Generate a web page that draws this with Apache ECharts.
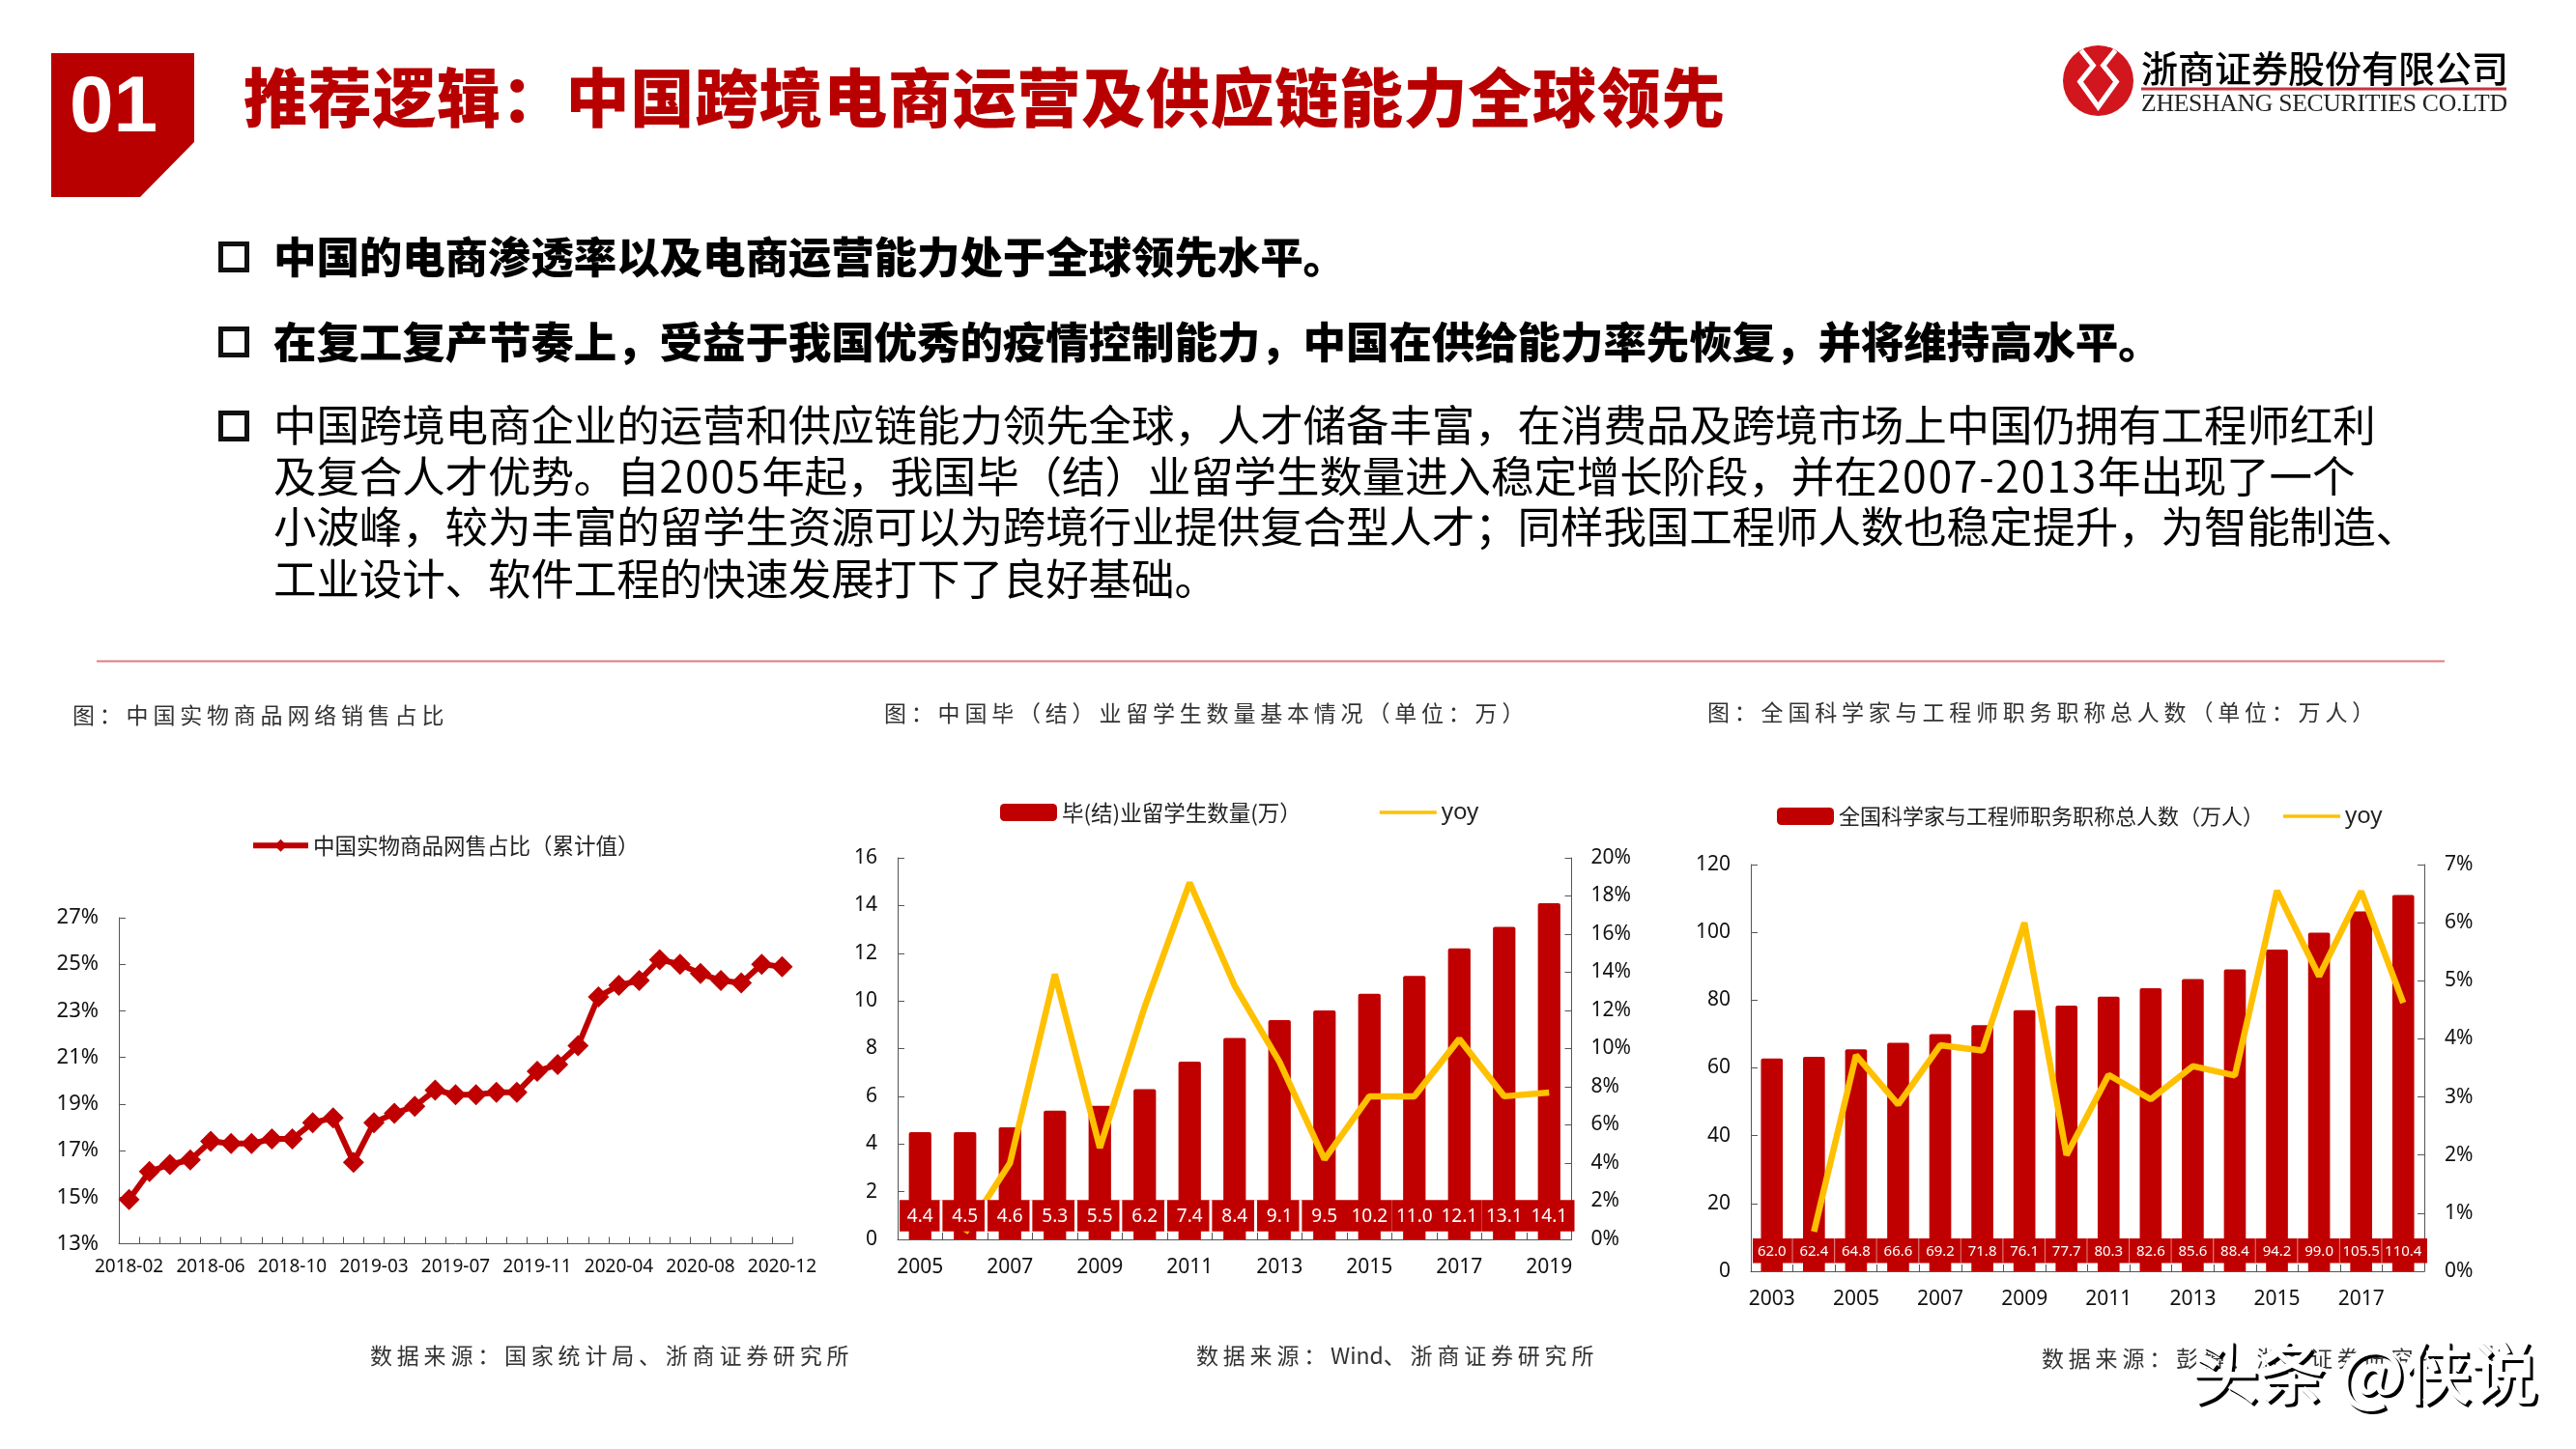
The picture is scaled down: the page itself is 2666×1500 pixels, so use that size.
<!DOCTYPE html>
<html lang="zh">
<head>
<meta charset="utf-8">
<script src="https://cdn.jsdelivr.net/npm/echarts@6/dist/echarts.min.js"></script>
<style>
html,body{margin:0;padding:0;background:#fff;width:2666px;height:1500px;overflow:hidden}
#chart{position:absolute;left:0;top:0;width:2666px;height:1500px}
.t{position:absolute;white-space:nowrap;font-family:"Noto Sans CJK SC","Noto Sans",sans-serif;line-height:1;transform:translateY(-50%);color:#000}
.cap{font-size:23px;letter-spacing:4.8px;color:#333;font-weight:400}
.b{font-size:44.5px;letter-spacing:-.1px}
.d{letter-spacing:1.7px}
.bold{font-weight:900}
.box{position:absolute;width:22px;height:22px;border:5px solid #111;left:226px}
.wm{font-size:70px;font-weight:500;letter-spacing:-1px;color:#fff;text-shadow:2px 2px 0 #000,3px 3px 0 #000,-2px -2px 0 #fff,2px -2px 0 #fff,-2px 2px 0 #fff,-3px 0 0 #fff,0 -3px 0 #fff}
</style>
</head>
<body>
<div id="chart"></div>

<svg style="position:absolute;left:0;top:0" width="2666" height="1500">
  <polygon points="53,55 201,55 201,147 145,204 53,204" fill="#B80000"/>
  <line x1="100" y1="684.5" x2="2530" y2="684.5" stroke="#E27C7C" stroke-width="2"/>
  <g transform="translate(2135,47) scale(1.043)">
    <circle cx="35" cy="35" r="35" fill="#D2161E"/>
    <path d="M18 5 L30 20 L17 36 L35 61 L53 36 L40 20 L52 5" fill="none" stroke="#fff" stroke-width="5"/>
    <polygon points="22,2 48,2 35,17" fill="#D2161E"/>
    <polygon points="35,22 46,36 35,50 24,36" fill="#D2161E"/>
  </g>
  <line x1="2216" y1="92" x2="2594" y2="92" stroke="#C8343C" stroke-width="3"/>
</svg>

<div class="t" style="left:72px;top:108px;font:bold 82px 'Liberation Sans';color:#fff">01</div>
<div class="t bold" style="left:252px;top:97px;font-size:66px;color:#B80000;letter-spacing:.7px">推荐逻辑：中国跨境电商运营及供应链能力全球领先</div>
<div class="t" style="left:2216px;top:69px;font-size:38px;font-family:'Noto Sans CJK SC';font-weight:500">浙商证券股份有限公司</div>
<div class="t" style="left:2216px;top:107px;font:25.7px 'Liberation Serif';letter-spacing:-.3px;color:#222">ZHESHANG SECURITIES CO.LTD</div>

<div class="box" style="top:250px"></div>
<div class="box" style="top:338px"></div>
<div class="box" style="top:425px"></div>
<div class="t b bold" style="left:283px;top:263.5px">中国的电商渗透率以及电商运营能力处于全球领先水平。</div>
<div class="t b bold" style="left:283px;top:351.5px">在复工复产节奏上，受益于我国优秀的疫情控制能力，中国在供给能力率先恢复，并将维持高水平。</div>
<div class="t b" style="left:283px;top:438px">中国跨境电商企业的运营和供应链能力领先全球，人才储备丰富，在消费品及跨境市场上中国仍拥有工程师红利</div>
<div class="t b" style="left:283px;top:491px">及复合人才优势。自<span class="d">2005</span>年起，我国毕（结）业留学生数量进入稳定增长阶段，并在<span class="d">2007-2013</span>年出现了一个</div>
<div class="t b" style="left:283px;top:543px">小波峰，较为丰富的留学生资源可以为跨境行业提供复合型人才；同样我国工程师人数也稳定提升，为智能制造、</div>
<div class="t b" style="left:283px;top:597px">工业设计、软件工程的快速发展打下了良好基础。</div>

<div class="t cap" style="left:75px;top:739px">图：中国实物商品网络销售占比</div>
<div class="t cap" style="left:915px;top:737px">图：中国毕（结）业留学生数量基本情况（单位：万）</div>
<div class="t cap" style="left:1767px;top:736px">图：全国科学家与工程师职务职称总人数（单位：万人）</div>
<div class="t cap" style="left:383px;top:1402px">数据来源：国家统计局、浙商证券研究所</div>
<div class="t cap" style="left:1238px;top:1402px">数据来源：<span style="letter-spacing:0">Wind</span>、浙商证券研究所</div>
<div class="t cap" style="left:2113px;top:1405px">数据来源：彭博、浙商证券研究所</div>
<div class="t" style="left:2572px;top:1399px;font-size:22px;color:#555">16</div>
<div class="t wm" style="left:2268px;top:1418px">头条 @侠说</div>

<script>
// ---------- Chart 1: online share of retail ----------
const onlineMonths = [
  '2018-02','2018-03','2018-04','2018-05','2018-06','2018-07','2018-08','2018-09','2018-10','2018-11','2018-12',
  '2019-02','2019-03','2019-04','2019-05','2019-06','2019-07','2019-08','2019-09','2019-10','2019-11','2019-12',
  '2020-02','2020-03','2020-04','2020-05','2020-06','2020-07','2020-08','2020-09','2020-10','2020-11','2020-12'];
const onlineShare = [
  14.9,16.1,16.4,16.6,17.4,17.3,17.3,17.5,17.5,18.2,18.4,
  16.5,18.2,18.6,18.9,19.6,19.4,19.4,19.5,19.5,20.4,20.7,
  21.5,23.6,24.1,24.3,25.2,25.0,24.6,24.3,24.2,25.0,24.9];
const onlineTicks = [13,15,17,19,21,23,25,27];

// ---------- Chart 2: returned overseas students ----------
const studentYears = ['2005','2006','2007','2008','2009','2010','2011','2012','2013','2014','2015','2016','2017','2018','2019'];
const studentBars = [4.5,4.5,4.7,5.4,5.6,6.3,7.45,8.45,9.2,9.6,10.3,11.05,12.2,13.1,14.1];
const studentTable = ['4.4','4.5','4.6','5.3','5.5','6.2','7.4','8.4','9.1','9.5','10.2','11.0','12.1','13.1','14.1'];
const studentYoy = [null,0.35,4.0,13.9,4.8,12.2,18.7,13.3,9.3,4.2,7.5,7.5,10.5,7.5,7.7];

// ---------- Chart 3: scientists & engineers ----------
const engineerYears = ['2003','2004','2005','2006','2007','2008','2009','2010','2011','2012','2013','2014','2015','2016','2017','2018'];
const engineerBars = [62.8,63.3,65.5,67.4,70,72.6,77,78.4,81,83.5,86.2,89.1,94.9,99.9,106.2,111];
const engineerTable = ['62.0','62.4','64.8','66.6','69.2','71.8','76.1','77.7','80.3','82.6','85.6','88.4','94.2','99.0','105.5','110.4'];
const engineerYoy = [null,0.68,3.72,2.87,3.89,3.8,6.0,2.0,3.38,2.96,3.53,3.37,6.55,5.08,6.54,4.62];

const nameOnline = '中国实物商品网售占比（累计值）';
const nameStudents = '毕(结)业留学生数量(万）';
const nameEngineers = '全国科学家与工程师职务职称总人数（万人）';

const RED = '#C00000', GOLD = '#FFC000', AXIS = '#555', TXT = '#111';
const LAT = '"Noto Sans","Noto Sans CJK SC",sans-serif';
const CJK = '"Noto Sans CJK SC","Noto Sans",sans-serif';
const LINE_ICON = 'path://M0,0L0,0ZM0,7H100V13H0ZM100,20L100,20Z';

function stripRenderer(labels, hi, lo, font, gapW, gapColor, gapCount) {
  return function (params, api) {
    const i = params.dataIndex;
    const p0 = api.coord([i, hi]);
    const p1 = api.coord([i, lo]);
    const w = api.size([1, 0])[0];
    const last = i === labels.length - 1;
    const x0 = p0[0] - w / 2 + (i === 0 ? 2 : 0);
    const x1 = p0[0] + w / 2 + (last ? 3 : 0);
    const kids = [{type:'rect', shape:{x:x0, y:p0[1], width:x1 - x0, height:p1[1] - p0[1]}, style:{fill:RED}}];
    if (i < gapCount) {
      kids.push({type:'rect', shape:{x:x1 - gapW, y:p0[1], width:gapW, height:p1[1] - p0[1]}, style:{fill:gapColor}});
    }
    kids.push({type:'text', style:{x:p0[0], y:(p0[1] + p1[1]) / 2 + 1, text:labels[i], fill:'#fff', font:font, textAlign:'center', textVerticalAlign:'middle'}});
    return {type:'group', children:kids};
  };
}

const tickStyle = {show:true, inside:true, length:7, lineStyle:{color:AXIS, width:1}};
const lineStyle = {show:true, lineStyle:{color:AXIS, width:1}};

const option = {
  backgroundColor:'transparent',
  animation:false,
  legend:[
    {show:true, data:[nameOnline], left:254, top:859, itemWidth:57, itemHeight:16, itemGap:0,
     lineStyle:{width:6}, textStyle:{fontFamily:CJK, fontSize:22.5, color:'#222'}},
    {show:true, data:[nameStudents,{name:'yoy', icon:LINE_ICON, textStyle:{fontSize:24, fontFamily:LAT}}],
     left:1030, top:824, itemWidth:59, itemHeight:18, itemGap:81,
     textStyle:{fontFamily:CJK, fontSize:22.5, color:'#222'}},
    {show:true, data:[nameEngineers,{name:'yoy', icon:LINE_ICON, textStyle:{fontSize:24, fontFamily:LAT}}],
     left:1834, top:828, itemWidth:59, itemHeight:18, itemGap:20,
     textStyle:{fontFamily:CJK, fontSize:22, color:'#222'}}
  ],
  grid:[
    {left:123, top:950, width:697, height:337.5},
    {left:929, top:888, width:697.5, height:395},
    {left:1812, top:895, width:697, height:421}
  ],
  xAxis:[
    {type:'category', gridIndex:0, data:onlineMonths, boundaryGap:true,
     axisLine:lineStyle, axisTick:Object.assign({}, tickStyle, {interval:0}),
     axisLabel:{interval:3, fontFamily:LAT, fontSize:19, color:TXT, margin:15}},
    {type:'category', gridIndex:1, data:studentYears,
     axisLine:lineStyle, axisTick:Object.assign({}, tickStyle, {interval:0}),
     axisLabel:{interval:1, fontFamily:LAT, fontSize:21, color:TXT, margin:19}},
    {type:'category', gridIndex:2, data:engineerYears,
     axisLine:lineStyle, axisTick:Object.assign({}, tickStyle, {interval:0}),
     axisLabel:{interval:1, fontFamily:LAT, fontSize:21, color:TXT, margin:19}}
  ],
  yAxis:[
    {type:'value', gridIndex:0, min:13, max:27, splitNumber:7, splitLine:{show:false},
     axisLine:lineStyle,
     axisTick:Object.assign({}, tickStyle, {customValues:onlineTicks}),
     axisLabel:{customValues:onlineTicks, formatter:'{value}%', fontFamily:LAT, fontSize:22, color:TXT, margin:21}},
    {type:'value', gridIndex:1, min:0, max:16, interval:2, splitLine:{show:false},
     axisLine:lineStyle, axisTick:tickStyle,
     axisLabel:{fontFamily:LAT, fontSize:21, color:TXT, margin:21}},
    {type:'value', gridIndex:1, position:'right', min:0, max:20, interval:2, splitLine:{show:false},
     axisLine:lineStyle, axisTick:tickStyle,
     axisLabel:{formatter:'{value}%', fontFamily:LAT, fontSize:21, color:TXT, margin:20}},
    {type:'value', gridIndex:2, min:0, max:120, interval:20, splitLine:{show:false},
     axisLine:lineStyle, axisTick:tickStyle,
     axisLabel:{fontFamily:LAT, fontSize:21, color:TXT, margin:21}},
    {type:'value', gridIndex:2, position:'right', min:0, max:7, interval:1, splitLine:{show:false},
     axisLine:lineStyle, axisTick:tickStyle,
     axisLabel:{formatter:'{value}%', fontFamily:LAT, fontSize:21, color:TXT, margin:21}}
  ],
  series:[
    {type:'line', name:nameOnline, xAxisIndex:0, yAxisIndex:0, data:onlineShare,
     symbol:'diamond', symbolSize:22, showAllSymbol:true, itemStyle:{color:RED},
     lineStyle:{color:RED, width:6}},

    {type:'bar', name:nameStudents, xAxisIndex:1, yAxisIndex:1, data:studentBars, barWidth:'50%', z:2,
     itemStyle:{color:RED, borderRadius:[2,2,0,0]}},
    {type:'line', name:'yoy', xAxisIndex:1, yAxisIndex:2, data:studentYoy, symbol:'none', z:3,
     itemStyle:{color:GOLD}, lineStyle:{color:GOLD, width:6.5}},
    {type:'custom', xAxisIndex:1, yAxisIndex:1, z:4, silent:true,
     data:studentTable.map((v, i) => [i, v]),
     renderItem:stripRenderer(studentTable, 1.65, 0.33, '19px "Noto Sans"', 3, '#fff', 9)},

    {type:'bar', name:nameEngineers, xAxisIndex:2, yAxisIndex:3, data:engineerBars, barWidth:'52%', z:2,
     itemStyle:{color:RED, borderRadius:[2,2,0,0]}},
    {type:'line', name:'yoy', xAxisIndex:2, yAxisIndex:4, data:engineerYoy, symbol:'none', z:3,
     itemStyle:{color:GOLD}, lineStyle:{color:GOLD, width:6.5}},
    {type:'custom', xAxisIndex:2, yAxisIndex:3, z:4, silent:true,
     data:engineerTable.map((v, i) => [i, v]),
     renderItem:stripRenderer(engineerTable, 9.7, 2.45, '15px "Noto Sans"', 1, '#E58A8A', 15)}
  ]
};
const chart = echarts.init(document.getElementById('chart'));
chart.setOption(option);
</script>
</body>
</html>
